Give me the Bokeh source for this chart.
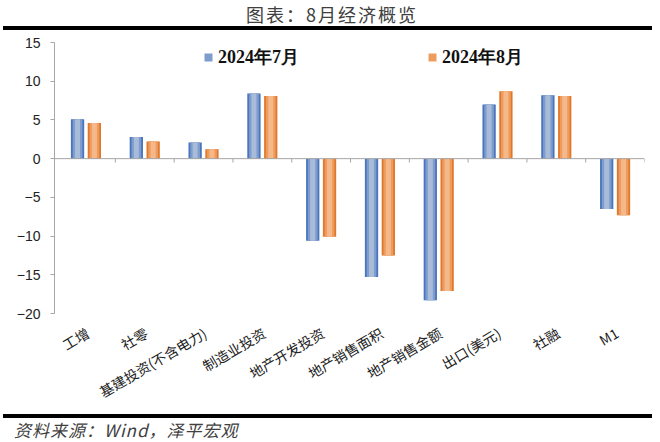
from bokeh.plotting import figure
from bokeh.layouts import column
from bokeh.models import (ColumnDataSource, Range1d, FixedTicker, Span, Legend, LegendItem,
                          LinearAxis, CustomJSTickFormatter, Div)
from bokeh.embed import file_html
from bokeh.resources import INLINE

categories = ["工增", "社零", "基建投资(不含电力)", "制造业投资", "地产开发投资",
              "地产销售面积", "地产销售金额", "出口(美元)", "社融", "M1"]
jul_2024 = [5.1, 2.8, 2.1, 8.4, -10.6, -15.3, -18.3, 7.0, 8.2, -6.5]
aug_2024 = [4.6, 2.2, 1.2, 8.1, -10.1, -12.5, -17.1, 8.7, 8.1, -7.3]
series_names = ["2024年7月", "2024年8月"]
y_ticks = [-20, -15, -10, -5, 0, 5, 10, 15]
title_text = "图表：8月经济概览"
source_text = "资料来源：Wind，泽平宏观"

W = 660
HEAD_H, MAIN_H, FOOT_H = 32, 382, 28
n = len(categories)
centers = [i + 0.5 for i in range(n)]
off = 0.143
src = ColumnDataSource(dict(
    cat=categories, jul=jul_2024, aug=aug_2024,
    x_jul=[c - off for c in centers], x_aug=[c + off for c in centers]))

# header: title + thick rule
head = Div(width=W, height=HEAD_H, margin=0, text=(
    '<div style="width:664px;height:26px;padding:2px 0 0 0;margin:0;text-align:center;'
    "white-space:nowrap;font-family:'Noto Sans CJK SC';font-size:18px;line-height:24px;"
    f'letter-spacing:2px;color:#404040;">{title_text}</div>'
    '<div style="margin:0 0 0 3px;padding:0;width:649px;height:0;'
    'border-top:4px solid #000000;"></div>'))

# main chart
p = figure(width=W, height=MAIN_H, x_range=Range1d(-0.035, n),
           y_range=Range1d(y_ticks[0], y_ticks[-1]), x_axis_type=None,
           output_backend="svg", toolbar_location=None,
           min_border_left=54, min_border_right=16, min_border_top=10, min_border_bottom=101)
p.outline_line_color = None
p.grid.visible = False
p.background_fill_color = "white"
p.border_fill_color = "white"

blue_layers = [(0.226, "#4A74BD"), (0.165, "#7E9DCD"), (0.085, "#A8BCDA")]
orange_layers = [(0.226, "#E0782C"), (0.165, "#EE9C5E"), (0.085, "#F5B88A")]

jul_r = [p.vbar(x="x_jul", top="jul", bottom=0, width=w, source=src,
                fill_color=c, line_color=None) for w, c in blue_layers]
aug_r = [p.vbar(x="x_aug", top="aug", bottom=0, width=w, source=src,
                fill_color=c, line_color=None) for w, c in orange_layers]

axis_gray = "#A6A6A6"
p.add_layout(Span(location=0, dimension="width", line_color=axis_gray, line_width=1))
bounds = list(range(1, n + 1))
p.segment(x0=bounds, y0=[0] * n, x1=bounds, y1=[-0.5] * n,
          line_color=axis_gray, line_width=1)

legend = Legend(items=[LegendItem(label=series_names[0], renderers=[jul_r[1]]),
                       LegendItem(label=series_names[1], renderers=[aug_r[1]])],
                orientation="horizontal", location=(149, 244), padding=0, margin=0,
                spacing=109, label_width=100, glyph_width=10, glyph_height=10,
                label_standoff=5, label_text_font="Liberation Serif",
                label_text_font_style="bold", label_text_font_size="18px",
                label_text_color="#111111",
                border_line_color=None, background_fill_alpha=0)
p.add_layout(legend)

ya = p.yaxis[0]
ya.ticker = FixedTicker(ticks=y_ticks)
ya.major_tick_out = 4
ya.major_tick_in = 0
ya.minor_tick_line_color = None
ya.axis_line_color = axis_gray
ya.major_tick_line_color = axis_gray
ya.major_label_text_font = "Liberation Sans"
ya.major_label_text_font_size = "14px"
ya.major_label_text_color = "#222222"
ya.major_label_standoff = 10

# category labels on their own slightly shifted range (Excel-like placement)
label_shift = 0.03
p.extra_x_ranges = {"lab": Range1d(-0.035 - label_shift, n - label_shift)}
xa = LinearAxis(x_range_name="lab", ticker=FixedTicker(ticks=centers),
                formatter=CustomJSTickFormatter(args=dict(labels=categories),
                                                code="return labels[Math.floor(tick)];"))
xa.axis_line_color = None
xa.major_tick_line_color = None
xa.minor_tick_line_color = None
xa.major_label_orientation = 0.53
xa.major_label_text_font = "Noto Sans CJK SC"
xa.major_label_text_font_size = "14px"
xa.major_label_text_color = "#222222"
xa.major_label_standoff = 12
p.add_layout(xa, "below")

# footer: thick rule + source
foot = Div(width=W, height=FOOT_H, margin=0, text=(
    '<div style="margin:0 0 0 3px;padding:0;width:649px;height:0;'
    'border-top:4px solid #000000;"></div>'
    '<div style="margin:0;padding:0 0 0 14px;white-space:nowrap;'
    "font-family:'Noto Sans CJK SC';font-style:italic;font-size:17px;line-height:23px;"
    f'letter-spacing:1px;color:#404040;">{source_text}</div>'))

layout = column(head, p, foot, spacing=0)
open("out.html", "w").write(file_html(layout, INLINE))
